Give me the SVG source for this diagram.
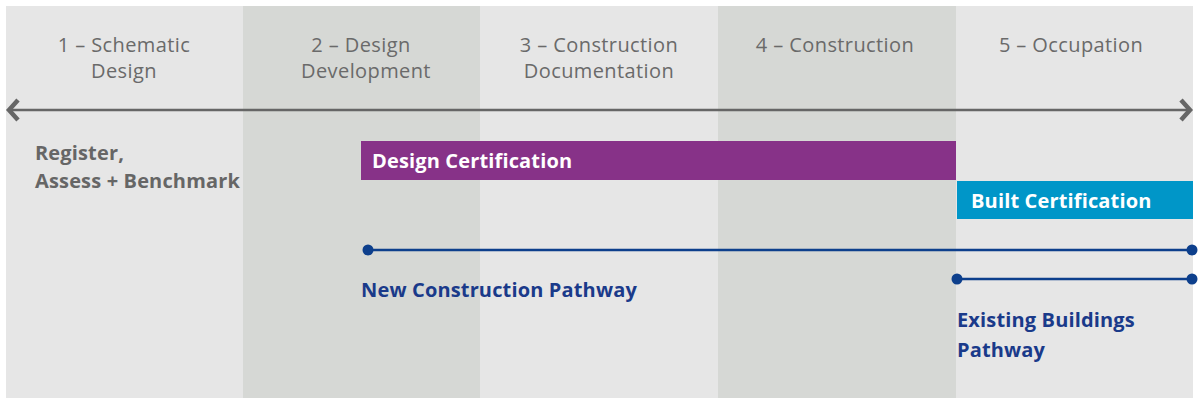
<svg xmlns="http://www.w3.org/2000/svg" width="1200" height="407" viewBox="0 0 1200 407">
<style>
.light{fill:#e6e6e6}
.dark{fill:#d6d8d5}
.phase{font-family:"Open Sans",Lato,sans-serif;font-size:20px;letter-spacing:0.4px;fill:#6a6a6a;text-anchor:middle;font-weight:400}
.lbl{font-family:"Open Sans",Lato,sans-serif;font-size:20px;letter-spacing:0.15px;font-weight:700}
.path{stroke:#0d3f8c;stroke-width:2.5;fill:none}
.dot{fill:#0d3f8c}
</style>
<rect x="0" y="0" width="1200" height="407" fill="#ffffff"/>
<g id="columns">
<rect class="light" x="6" y="6" width="237" height="392"/>
<rect class="dark" x="243" y="6" width="237" height="392"/>
<rect class="light" x="480" y="6" width="238" height="392"/>
<rect class="dark" x="718" y="6" width="238" height="392"/>
<rect class="light" x="956" y="6" width="237" height="392"/>
</g>
<g id="phases">
<text class="phase" x="124" y="52">1 – Schematic</text>
<text class="phase" x="124" y="78">Design</text>
<text class="phase" x="361" y="52">2 – Design</text>
<text class="phase" x="366" y="78">Development</text>
<text class="phase" x="599" y="52">3 – Construction</text>
<text class="phase" x="599" y="78">Documentation</text>
<text class="phase" x="835" y="52">4 – Construction</text>
<text class="phase" x="1071" y="52">5 – Occupation</text>
</g>
<g id="connectors">
<line x1="9" y1="110" x2="1190" y2="110" stroke="#666" stroke-width="2.5"/>
<polyline points="18,100 9,110 18,120" fill="none" stroke="#666" stroke-width="4.5"/>
<polyline points="1181,100 1190,110 1181,120" fill="none" stroke="#666" stroke-width="4.5"/>
<line class="path" x1="368" y1="250" x2="1192" y2="250"/>
<circle class="dot" cx="368" cy="250" r="5.5"/>
<circle class="dot" cx="1192" cy="250" r="5.5"/>
<line class="path" x1="957" y1="279" x2="1192" y2="279"/>
<circle class="dot" cx="957" cy="279" r="5.5"/>
<circle class="dot" cx="1192" cy="279" r="5.5"/>
</g>
<g id="register">
<text class="lbl" x="35" y="160" fill="#666">Register,</text>
<text class="lbl" x="35" y="188" fill="#666">Assess + Benchmark</text>
</g>
<g id="design-cert">
<rect x="361" y="141" width="595" height="39" fill="#873288"/>
<text class="lbl" x="372" y="168" fill="#fff">Design Certification</text>
</g>
<g id="built-cert">
<rect x="957" y="181" width="236" height="38" fill="#0096c8"/>
<text class="lbl" x="971" y="208" fill="#fff">Built Certification</text>
</g>
<g id="new-construction">
<text class="lbl" x="361" y="297" fill="#1a3a8a">New Construction Pathway</text>
</g>
<g id="existing-buildings">
<text class="lbl" x="957" y="327" fill="#1a3a8a">Existing Buildings</text>
<text class="lbl" x="957" y="357" fill="#1a3a8a">Pathway</text>
</g>
</svg>
